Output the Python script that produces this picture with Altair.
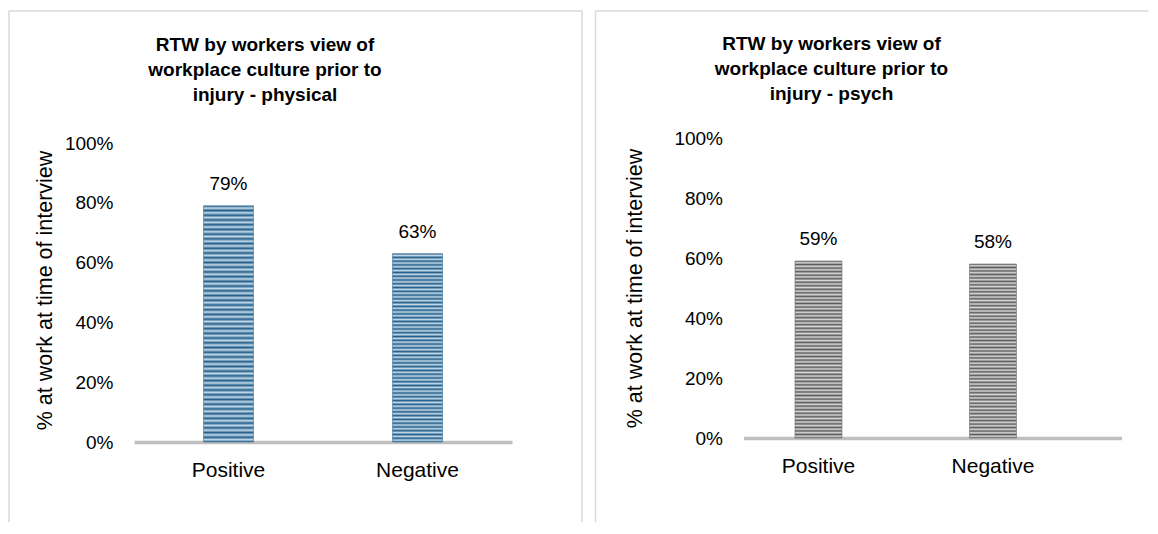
import altair as alt
import pandas as pd

# ---- data ----
categories = ["Positive", "Negative"]
physical_values = [0.79, 0.63]
psych_values = [0.59, 0.58]
y_ticks = [0.0, 0.2, 0.4, 0.6, 0.8, 1.0]
title_physical = ["RTW by workers view of", "workplace culture prior to", "injury - physical"]
title_psych = ["RTW by workers view of", "workplace culture prior to", "injury - psych"]
y_title = "% at work at time of interview"

FONT = "Liberation Sans"


def stripes(dark, light, n=50):
    stops = []
    for i in range(n):
        stops.append(alt.GradientStop(offset=i / n, color=dark))
        stops.append(alt.GradientStop(offset=(i + 0.5) / n, color=light))
    stops.append(alt.GradientStop(offset=1.0, color=dark))
    return alt.LinearGradient(gradient="linear", stops=stops, x1=0, x2=0, y1=0, y2=1)


def panel(values, title, gradient, edge, height, y_max, pad_inner, pad_outer, align,
          title_dx, title_offset, title_padding, frame):
    df = pd.DataFrame({"category": categories, "value": values})
    base = alt.Chart(df)
    x = alt.X(
        "category:N", sort=categories, title=None,
        scale=alt.Scale(paddingInner=pad_inner, paddingOuter=pad_outer, align=align),
        axis=alt.Axis(labelAngle=0, ticks=False, tickSize=0, labelPadding=17,
                      labelFontSize=21, labelColor="#000", labelFont=FONT,
                      domainColor="#bfbfbf", domainWidth=3.5),
    )
    y = alt.Y(
        "value:Q", scale=alt.Scale(domain=[0, y_max], nice=False),
        axis=alt.Axis(values=y_ticks, format=".0%", grid=False, domain=False,
                      ticks=False, tickSize=0, labelPadding=21, labelFontSize=19,
                      labelColor="#000", labelFont=FONT, title=y_title,
                      titleFontSize=21.5, titleFontWeight="normal", titleColor="#000",
                      titleFont=FONT, titlePadding=title_padding),
    )
    bars = base.mark_bar(fill=gradient, stroke=edge, strokeWidth=0.6).encode(x=x, y=y)
    labels = base.mark_text(baseline="alphabetic", dy=-16, fontSize=19, font=FONT,
                            color="#000").encode(
        x=alt.X("category:N", sort=categories),
        y=alt.Y("value:Q"),
        text=alt.Text("value:Q", format=".0%"),
    )
    one = alt.Data(values=[{"k": 0}])
    left_x, top_y, right_x, bottom_y, closed = frame
    rules = [
        alt.Chart(one).mark_rule(color="#d9d9d9", strokeWidth=1.5).encode(
            x=alt.value(left_x), x2=alt.value(left_x), y=alt.value(top_y), y2=alt.value(bottom_y)),
        alt.Chart(one).mark_rule(color="#d9d9d9", strokeWidth=1.5).encode(
            x=alt.value(left_x), x2=alt.value(right_x), y=alt.value(top_y), y2=alt.value(top_y)),
    ]
    if closed:
        rules.append(alt.Chart(one).mark_rule(color="#d9d9d9", strokeWidth=1.5).encode(
            x=alt.value(right_x), x2=alt.value(right_x), y=alt.value(top_y), y2=alt.value(bottom_y)))
    return alt.layer(*rules, bars, labels).properties(
        width=378, height=height,
        title=alt.TitleParams(text=title, fontSize=19, fontWeight="bold", font=FONT,
                              lineHeight=25, anchor="middle", dx=title_dx,
                              offset=title_offset, color="#000"),
    )


left = panel(physical_values, title_physical, stripes("#245f8c", "#c3d9e8"), "#3a74a0",
             304, 1.0 + 5 / 299, 0.7354, 0.3677, 0.5, -58, -95, 8,
             (-125, -127, 448, 384, True))
right = panel(psych_values, title_psych, stripes("#5c5c5c", "#d9d9d9"), "#707070",
              300, 1.0, 0.7307, 0.4484, 0.329, -101, -94, 27,
              (-148, -127, 405, 384, False))

chart = alt.hconcat(left, right, spacing=11.5).properties(
    padding={"left": 0, "top": 2, "right": 0, "bottom": 0}
).configure_view(stroke=None)

chart.save("out.html", embed_options={"renderer": "svg", "actions": False})
